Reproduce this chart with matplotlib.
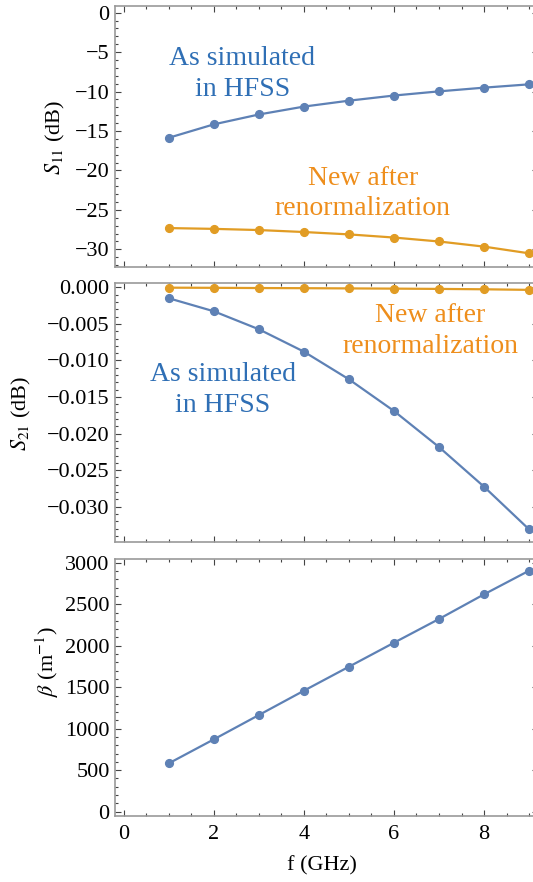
import numpy as np
import matplotlib
matplotlib.use('Agg')
import matplotlib.pyplot as plt
from matplotlib.ticker import MultipleLocator, FuncFormatter

plt.rcParams['font.family'] = ['Liberation Serif', 'DejaVu Serif']
plt.rcParams['mathtext.fontset'] = 'stix'

# frequency points (GHz)
freq = [1, 2, 3, 4, 5, 6, 7, 8, 9]

# S11 (dB)
s11_hfss = [-15.85, -14.15, -12.9, -11.9, -11.15, -10.5, -9.97, -9.5, -9.08]
s11_new = [-27.3, -27.4, -27.55, -27.8, -28.1, -28.5, -29.0, -29.65, -30.5]

# S21 (dB)
s21_hfss = [-0.0015, -0.00328, -0.00574, -0.0088, -0.01258, -0.01691, -0.02184, -0.02726, -0.03309]
s21_new = [-0.00005, -0.00007, -0.0001, -0.00012, -0.00015, -0.00018, -0.00022, -0.00027, -0.00035]

# beta (1/m)
beta = [583, 872, 1165, 1458, 1747, 2036, 2322, 2619, 2904]

blue = '#5e81b5'
orange = '#e19c24'
blue_txt = '#2f6fb5'
orange_txt = '#ee8e1c'

W, H = 533, 882
fig = plt.figure(figsize=(W / 100, H / 100), dpi=100)

left = 115.3 / W
width = 422.3 / W
# (top px, bottom px) for each panel
boxes = [(6, 266.5), (282.7, 542), (559, 815.5)]
axes = []
for top, bot in boxes:
    ax = fig.add_axes([left, 1 - bot / H, width, (bot - top) / H])
    axes.append(ax)


def minus(fmt):
    return FuncFormatter(lambda v, p: (fmt % v).replace('-', '\u2212'))


for ax in axes:
    ax.set_xlim(-0.19, 9.19)
    ax.xaxis.set_major_locator(MultipleLocator(2))
    ax.xaxis.set_minor_locator(MultipleLocator(0.5))
    ax.tick_params(which='both', direction='in', top=True, right=True,
                   color='#444444', labelsize=16, width=0.8)
    ax.tick_params(which='major', length=4.5)
    ax.tick_params(which='minor', length=2.5)
    ax.tick_params(axis='y', pad=4)
    for s in ax.spines.values():
        s.set_color('#999999')
        s.set_linewidth(1.2)

for ax in axes[:2]:
    ax.tick_params(labelbottom=False)

lw, ms = 1.6, 5.6
note = dict(fontsize=20, ha='center', va='center', linespacing=1.3)

# panel 1: S11
ax = axes[0]
ax.plot(freq, s11_hfss, '-o', color=blue, lw=lw, ms=ms)
ax.plot(freq, s11_new, '-o', color=orange, lw=lw, ms=ms)
ax.set_ylim(-32.17, 0.85)
ax.yaxis.set_major_locator(MultipleLocator(5))
ax.yaxis.set_minor_locator(MultipleLocator(1))
ax.yaxis.set_major_formatter(minus('%g'))
ax.text(2.63, -7.75, 'As simulated\nin HFSS', color=blue_txt, **note)
ax.text(5.31, -22.9, 'New after\nrenormalization', color=orange_txt, **note)

# panel 2: S21
ax = axes[1]
ax.plot(freq, s21_hfss, '-o', color=blue, lw=lw, ms=ms)
ax.plot(freq, s21_new, '-o', color=orange, lw=lw, ms=ms)
ax.set_ylim(-0.03482, 0.00063)
ax.yaxis.set_major_locator(MultipleLocator(0.005))
ax.yaxis.set_minor_locator(MultipleLocator(0.001))
ax.yaxis.set_major_formatter(minus('%.3f'))
ax.text(6.8, -0.00595, 'New after\nrenormalization', color=orange_txt, **note)
ax.text(2.2, -0.0140, 'As simulated\nin HFSS', color=blue_txt, **note)

# panel 3: beta
ax = axes[2]
ax.plot(freq, beta, '-o', color=blue, lw=lw, ms=ms)
ax.set_ylim(-46, 3045)
ax.yaxis.set_major_locator(MultipleLocator(500))
ax.yaxis.set_minor_locator(MultipleLocator(100))
ax.tick_params(axis='x', pad=7)

# axis labels
fig.text(55 / W, 1 - 137 / H, '$S_{11}$ (dB)', rotation=90, ha='center', va='center', fontsize=16)
fig.text(21.5 / W, 1 - 413 / H, '$S_{21}$ (dB)', rotation=90, ha='center', va='center', fontsize=16)
fig.text(47 / W, 1 - 662 / H, r'$\beta$ (m$^{-1}$)', rotation=90, ha='center', va='center', fontsize=16)
fig.text(322 / W, 1 - 866 / H, 'f (GHz)', ha='center', va='center', fontsize=16)

fig.savefig('out.png', dpi=100)
